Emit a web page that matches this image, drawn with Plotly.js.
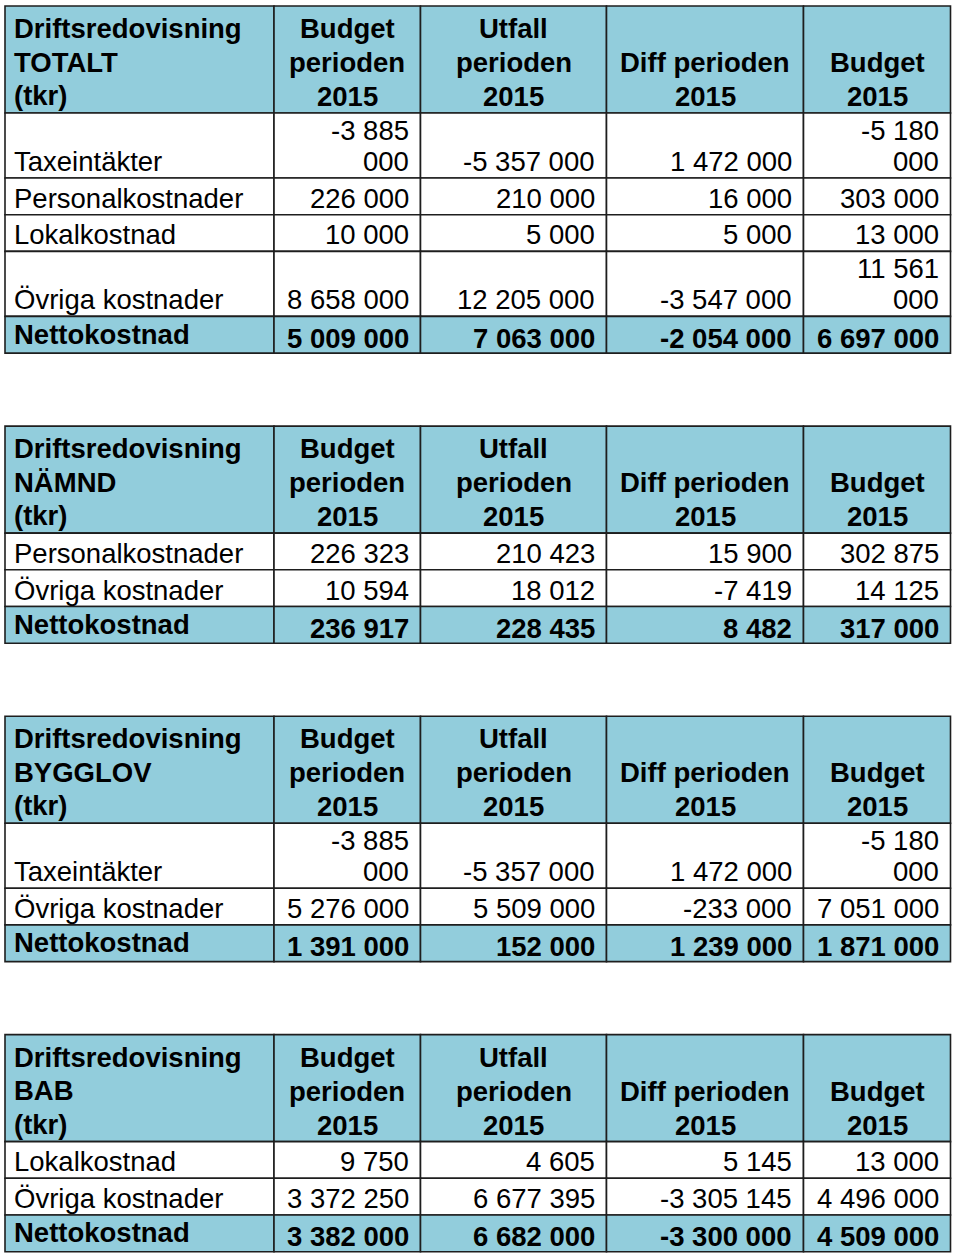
<!DOCTYPE html>
<html>
<head>
<meta charset="utf-8">
<script src="https://cdn.plot.ly/plotly-3.0.1.min.js"></script>
<style>
  html, body { margin: 0; padding: 0; background: #fff; }
  #report { width: 960px; height: 1258px; }
</style>
</head>
<body>
<div id="report"></div>
<script>
const sectionNames = ["TOTALT", "NÄMND", "BYGGLOV", "BAB"];
const columnHeads = [
    ["Budget", "perioden", "2015"],
    ["Utfall", "perioden", "2015"],
    ["Diff perioden", "2015"],
    ["Budget", "2015"]
];

const totaltLabels = ["Taxeintäkter", "Personalkostnader", "Lokalkostnad", "Övriga kostnader", "Nettokostnad"];
const totaltBudgetPeriod = [-3885000, 226000, 10000, 8658000, 5009000];
const totaltOutcome = [-5357000, 210000, 5000, 12205000, 7063000];
const totaltDiff = [1472000, 16000, 5000, -3547000, -2054000];
const totaltBudgetYear = [-5180000, 303000, 13000, 11561000, 6697000];

const namndLabels = ["Personalkostnader", "Övriga kostnader", "Nettokostnad"];
const namndBudgetPeriod = [226323, 10594, 236917];
const namndOutcome = [210423, 18012, 228435];
const namndDiff = [15900, -7419, 8482];
const namndBudgetYear = [302875, 14125, 317000];

const bygglovLabels = ["Taxeintäkter", "Övriga kostnader", "Nettokostnad"];
const bygglovBudgetPeriod = [-3885000, 5276000, 1391000];
const bygglovOutcome = [-5357000, 5509000, 152000];
const bygglovDiff = [1472000, -233000, 1239000];
const bygglovBudgetYear = [-5180000, 7051000, 1871000];

const babLabels = ["Lokalkostnad", "Övriga kostnader", "Nettokostnad"];
const babBudgetPeriod = [9750, 3372250, 3382000];
const babOutcome = [4605, 6677395, 6682000];
const babDiff = [5145, -3305145, -3300000];
const babBudgetYear = [13000, 4496000, 4509000];

const tables = [
    { name: sectionNames[0], labels: totaltLabels, cols: [totaltBudgetPeriod, totaltOutcome, totaltDiff, totaltBudgetYear] },
    { name: sectionNames[1], labels: namndLabels, cols: [namndBudgetPeriod, namndOutcome, namndDiff, namndBudgetYear] },
    { name: sectionNames[2], labels: bygglovLabels, cols: [bygglovBudgetPeriod, bygglovOutcome, bygglovDiff, bygglovBudgetYear] },
    { name: sectionNames[3], labels: babLabels, cols: [babBudgetPeriod, babOutcome, babDiff, babBudgetYear] }
];

// page geometry (px, y grows downwards)
const colEdges = [5, 274, 420.5, 606.5, 803.5, 950.5];
const firstTop = 6;
const tableGap = 73;
const headerHeight = 107;
const rowHeights = { 1: 36.7, 2: 65 };
const headFill = "#92cddc";
const gridColor = "#1e1e1e";
const fontFamily = "Liberation Sans, Arial, sans-serif";
const fontSize = 27.5;
const padLeft = 7;
const padRight = 9.5;

const shapes = [];
const annotations = [];

function fmt(v) {
    const s = Math.abs(v).toString().replace(/\B(?=(\d{3})+(?!\d))/g, " ");
    return (v < 0 ? "-" : "") + s;
}

// narrow columns wrap long numbers like Word did
function wrapCell(text, col) {
    const w = colEdges[col + 1] - colEdges[col];
    if (text.length >= 10 && w < 160) {
        const i = text.lastIndexOf(" ");
        return [text.slice(0, i), text.slice(i + 1)];
    }
    return [text];
}

function addCell(x0, x1, y0, y1, fill) {
    shapes.push({
        type: "rect", xref: "x", yref: "y",
        x0: x0, x1: x1, y0: y0, y1: y1,
        fillcolor: fill, line: { color: gridColor, width: 1.6 }, layer: "below"
    });
}

function addLines(lines, x, xanchor, bottom, pad, gap, bold) {
    lines.forEach((line, i) => {
        const baseline = bottom - pad - (lines.length - 1 - i) * gap;
        annotations.push({
            x: x, y: baseline - 8.5, xref: "x", yref: "y",
            text: bold ? "<b>" + line + "</b>" : line,
            showarrow: false, xanchor: xanchor, yanchor: "middle",
            font: { family: fontFamily, size: fontSize, color: "#000" }
        });
    });
}

let tableTop = firstTop;
tables.forEach(t => {
    // header
    const headBottom = tableTop + headerHeight;
    for (let c = 0; c < 5; c++) addCell(colEdges[c], colEdges[c + 1], tableTop, headBottom, headFill);
    addLines(["Driftsredovisning", t.name, "(tkr)"], colEdges[0] + padLeft, "left", headBottom, 9, 33.5, true);
    columnHeads.forEach((h, c) => {
        addLines(h, (colEdges[c + 1] + colEdges[c + 2]) / 2, "center", headBottom, 8, 34, true);
    });

    // body rows
    let y = headBottom;
    t.labels.forEach((label, r) => {
        const isTotal = r === t.labels.length - 1;
        const cells = t.cols.map((col, c) => wrapCell(fmt(col[r]), c + 1));
        const lineCount = Math.max(...cells.map(l => l.length));
        const bottom = y + rowHeights[lineCount];
        const fill = isTotal ? headFill : "#ffffff";
        for (let c = 0; c < 5; c++) addCell(colEdges[c], colEdges[c + 1], y, bottom, fill);
        addLines([label], colEdges[0] + padLeft, "left", bottom, isTotal ? 10.5 : 8, 31, isTotal);
        cells.forEach((lines, c) => {
            addLines(lines, colEdges[c + 2] - padRight, "right", bottom, isTotal ? 6.5 : 8, 31, isTotal);
        });
        y = bottom;
    });
    tableTop = y + tableGap;
});

Plotly.newPlot("report", [], {
    width: 960,
    height: 1258,
    margin: { t: 0, l: 0, r: 0, b: 0 },
    paper_bgcolor: "#ffffff",
    plot_bgcolor: "#ffffff",
    showlegend: false,
    xaxis: { range: [0, 960], visible: false, fixedrange: true },
    yaxis: { range: [1258, 0], visible: false, fixedrange: true },
    shapes: shapes,
    annotations: annotations
}, { staticPlot: true });
</script>
</body>
</html>
